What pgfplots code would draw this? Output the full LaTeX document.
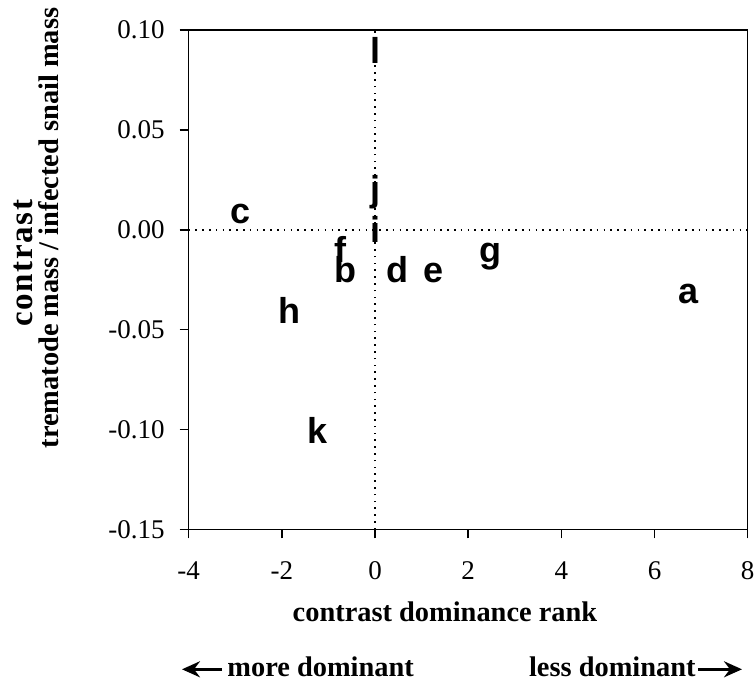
\documentclass[border=0pt]{standalone}
\usepackage{fontspec}
\setmainfont{Liberation Serif}
\newfontfamily\arialfont{Liberation Sans}
\usepackage{pgfplots}
\pgfplotsset{compat=1.18}
\usetikzlibrary{arrows.meta}

\pgfplotstableread{
x y label
6.73 -0.0321 a
-0.64 -0.0214 b
-2.88 0.0080 c
0.48 -0.0214 d
1.25 -0.0214 e
-0.74 -0.0116 f
2.47 -0.0114 g
-1.84 -0.0421 h
0.00 -0.0014 i
0.00 0.0187 j
-1.24 -0.1021 k
0.00 0.0881 l
}\ranks

\begin{document}
\begin{tikzpicture}
\begin{axis}[
  scale only axis, width=279.5pt, height=249.65pt,
  xmin=-4, xmax=8, ymin=-0.15, ymax=0.10,
  xtick={-4,-2,0,2,4,6,8}, ytick={-0.15,-0.10,-0.05,0,0.05,0.10},
  tick align=outside, major tick length=4.5pt,
  xtick pos=bottom, ytick pos=left,
  axis line style={line width=0.8pt}, tick style={line width=0.8pt, black},
  /pgf/number format/assume math mode=true,
  yticklabel style={/pgf/number format/fixed, /pgf/number format/fixed zerofill,
    /pgf/number format/precision=2, font=\fontsize{13.5}{15}\selectfont, xshift=-4pt},
  xticklabel style={font=\fontsize{13.5}{15}\selectfont, yshift=-8pt},
  clip=false]
\addplot[line width=0.8pt, dash pattern=on 0.8pt off 2.6pt] coordinates {(0,-0.15) (0,0.10)};
\addplot[line width=0.8pt, dash pattern=on 0.8pt off 2.6pt] coordinates {(-4,0) (8,0)};
\addplot[only marks, mark=none, nodes near coords, point meta=explicit symbolic,
  nodes near coords style={anchor=base, yshift=-4.8pt, inner sep=0pt,
    font=\arialfont\bfseries\fontsize{18}{20}\selectfont}]
  table[x=x, y=y, meta=label] {\ranks};
\end{axis}
\node[anchor=base, font=\bfseries\fontsize{14.2}{16}\selectfont] at (128.15pt,-45.85pt) {contrast dominance rank};
\node[anchor=base west, inner sep=0pt, font=\bfseries\fontsize{14.2}{16}\selectfont] at (19.15pt,-73.35pt) {more dominant};
\node[anchor=base west, inner sep=0pt, font=\bfseries\fontsize{14.2}{16}\selectfont] (less) at (170pt,-73.35pt) {less dominant};
\draw[line width=1.4pt, -{Stealth[length=9pt, width=8pt, inset=3pt]}] (16.65pt,-70pt) -- (-3.35pt,-70pt);
\draw[line width=1.4pt, -{Stealth[length=9pt, width=8pt, inset=3pt]}] ([xshift=1pt]less.base east |- 0,-70pt) -- ++(22pt,0);
\node[rotate=90, anchor=base, font=\bfseries\fontsize{16.5}{19}\selectfont\addfontfeatures{LetterSpace=5}] at (-78pt,133pt) {contrast};
\node[rotate=90, anchor=base, font=\bfseries\fontsize{14.2}{16}\selectfont] at (-65pt,150.65pt) {trematode mass / infected snail mass};
\pgfresetboundingbox
\path[use as bounding box] (-94.35pt,-81.35pt) rectangle (283.15pt,264.65pt);
\end{tikzpicture}
\end{document}
